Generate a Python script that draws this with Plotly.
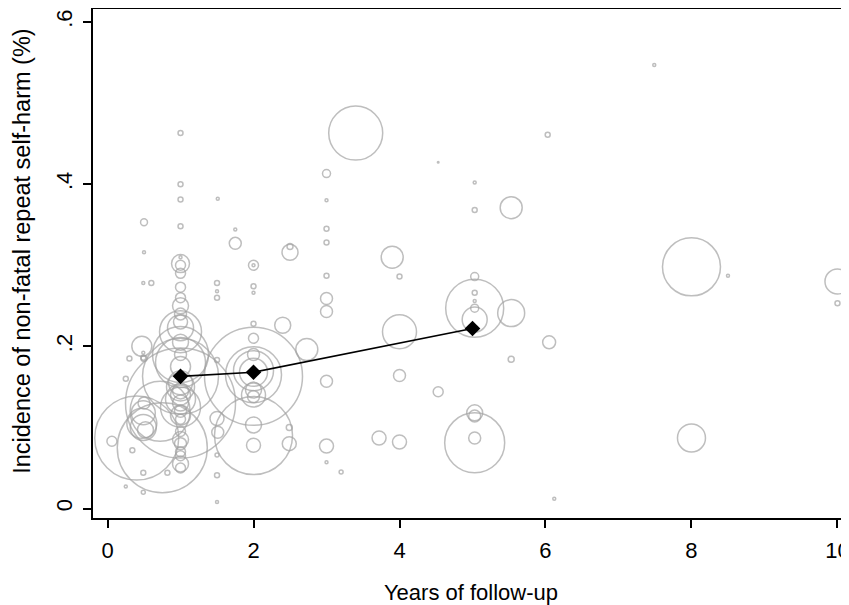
import plotly.graph_objects as go

# Study-level estimates: follow-up (years), incidence, study weight
years = [7.49, 1.0, 3.4, 6.03, 4.53, 3.0, 5.03, 1.0, 1.51, 1.0,
         3.0, 5.53, 5.03, 0.5, 1.0, 1.75, 3.0, 3.0, 1.75, 0.5,
         2.5, 2.5, 3.9, 1.0, 1.0, 1.0, 2.0, 2.0, 8.0, 4.0,
         3.0, 5.03, 8.5, 10.0, 0.49, 0.6, 1.5, 2.0, 1.0, 5.03,
         1.5, 2.0, 1.5, 1.0, 3.0, 5.03, 10.0, 1.0, 5.03, 5.03,
         3.0, 5.53, 5.03, 1.0, 1.0, 2.0, 2.4, 4.0, 1.0, 2.0,
         6.05, 0.47, 2.73, 2.0, 0.49, 0.49, 1.5, 5.53, 1.0, 1.0,
         0.25, 4.0, 3.0, 2.0, 2.0, 2.0, 2.0, 1.0, 1.0, 1.0,
         1.0, 1.0, 1.0, 1.0, 4.53, 2.0, 2.0, 2.0, 5.03, 5.03,
         0.49, 0.49, 1.0, 0.4, 0.75, 2.0, 2.0, 2.0, 2.49, 2.49,
         0.06, 5.03, 5.03, 3.72, 4.0, 3.0, 8.0, 3.0, 3.2, 1.0,
         1.0, 1.0, 1.0, 0.49, 0.82, 1.5, 0.49, 0.25, 1.5, 6.12,
         1.5, 1.5, 0.47, 0.52, 1.0, 0.72, 0.34, 1.51,
         1.0, 1.0, 1.0, 1.0, 1.0, 1.0, 1.0, 1.0, 1.0, 1.0,
         1.0, 0.5, 0.5, 0.3]
incidence = [0.547, 0.463, 0.463, 0.461, 0.427, 0.413, 0.402, 0.400, 0.382, 0.381,
             0.380, 0.371, 0.368, 0.353, 0.348, 0.344, 0.345, 0.328, 0.327, 0.316,
             0.316, 0.323, 0.310, 0.310, 0.300, 0.302, 0.300, 0.300, 0.298, 0.286,
             0.287, 0.286, 0.287, 0.280, 0.278, 0.278, 0.278, 0.274, 0.273, 0.266,
             0.268, 0.266, 0.260, 0.260, 0.259, 0.256, 0.253, 0.250, 0.247, 0.247,
             0.243, 0.241, 0.233, 0.230, 0.223, 0.228, 0.226, 0.218, 0.218, 0.210,
             0.205, 0.200, 0.196, 0.190, 0.186, 0.192, 0.183, 0.184, 0.190, 0.180,
             0.160, 0.164, 0.157, 0.163, 0.165, 0.168, 0.170, 0.163, 0.150, 0.140,
             0.130, 0.125, 0.120, 0.110, 0.144, 0.146, 0.138, 0.140, 0.118, 0.114,
             0.118, 0.100, 0.130, 0.087, 0.075, 0.090, 0.103, 0.078, 0.100, 0.080,
             0.083, 0.087, 0.081, 0.087, 0.082, 0.077, 0.087, 0.057, 0.045, 0.080,
             0.065, 0.055, 0.050, 0.044, 0.044, 0.041, 0.020, 0.027, 0.008, 0.012,
             0.111, 0.066, 0.105, 0.097, 0.190, 0.120, 0.072, 0.094,
             0.290, 0.240, 0.205, 0.175, 0.155, 0.135, 0.115, 0.095, 0.085, 0.070,
             0.145, 0.185, 0.130, 0.185]
weight = [2.25, 6.25, 729, 6.25, 0.6, 16, 2.25, 6.25, 2.25, 6.25,
          2.25, 121, 6.25, 12, 6.25, 2.25, 6.25, 6.25, 36, 2.25,
          64, 9, 121, 2.25, 25, 81, 25, 2.25, 841, 6.25,
          6.25, 16, 2.25, 156, 2.25, 6.25, 6.25, 6.25, 25, 6.25,
          2.25, 2.25, 6.25, 25, 36, 2.25, 6.25, 64, 16, 841,
          36, 182, 156, 49, 169, 6.25, 64, 289, 441, 25,
          42, 100, 121, 36, 6.25, 2.25, 6.25, 9, 36, 625,
          6.25, 36, 36, 2401, 784, 196, 400, 1444, 196, 100,
          64, 400, 36, 25, 25, 64, 36, 144, 64, 36,
          144, 169, 3025, 1764, 2025, 1521, 64, 49, 9, 49,
          25, 36, 900, 49, 49, 49, 196, 2.25, 4, 36,
          25, 64, 25, 6.25, 6.25, 6.25, 4, 2.25, 2.25, 2.25,
          49, 4, 225, 64, 784, 900, 6.25, 36,
          25, 36, 64, 100, 144, 225, 100, 25, 64, 25,
          64, 9, 36, 6.25]

# Pooled estimates by follow-up period
pooled_years = [1, 2, 5]
pooled_incidence = [0.163, 0.168, 0.222]

x_ticks = [0, 2, 4, 6, 8, 10]
y_ticks = [0, 0.2, 0.4, 0.6]
y_tick_labels = ["0", ".2", ".4", ".6"]

FONT = "Liberation Sans, Arial, sans-serif"
GRAY = "#a3a3a3"

fig = go.Figure()
fig.add_trace(go.Scatter(
    x=years, y=incidence, mode="markers",
    marker=dict(symbol="circle-open", size=weight, sizemode="area", sizeref=0.5,
                sizemin=0.8, color=GRAY, line=dict(color=GRAY, width=1.5)),
    showlegend=False, hoverinfo="skip"))
fig.add_trace(go.Scatter(
    x=pooled_years, y=pooled_incidence, mode="lines+markers",
    line=dict(color="black", width=1.6),
    marker=dict(symbol="diamond", size=12, color="black"),
    showlegend=False))

# The page body adds an 8px offset, so the figure is sized to the visible area.
fig.update_layout(
    width=841, height=597,
    margin=dict(l=85, r=0, t=1, b=87),
    plot_bgcolor="white", paper_bgcolor="white",
    font=dict(family=FONT, size=22, color="black"),
    xaxis=dict(range=[-0.199, 10.158], tickvals=x_ticks, ticks="outside", ticklen=8,
               tickwidth=1.5, tickcolor="black", showline=True, linecolor="black",
               linewidth=2, mirror=True, showgrid=False, zeroline=False,
               automargin=False, tickfont=dict(size=22), ticklabelstandoff=4,
               ticklabeloverflow="allow",
               title=dict(text="Years of follow-up", font=dict(size=22), standoff=23)),
    yaxis=dict(range=[-0.0117, 0.616], tickvals=y_ticks, ticktext=y_tick_labels,
               ticks="outside", ticklen=8, tickwidth=1.5, tickcolor="black",
               showline=True, linecolor="black", linewidth=2, showgrid=False,
               zeroline=False, tickangle=-90, tickfont=dict(size=22),
               automargin=False, ticklabelstandoff=2),
    annotations=[dict(text="Incidence of non-fatal repeat self-harm (%)",
                      xref="paper", yref="paper", x=-0.0939, y=0.523,
                      xanchor="center", yanchor="middle", textangle=-90,
                      showarrow=False, font=dict(size=23.5, family=FONT, color="black"))],
)

fig.write_html("out.html")
